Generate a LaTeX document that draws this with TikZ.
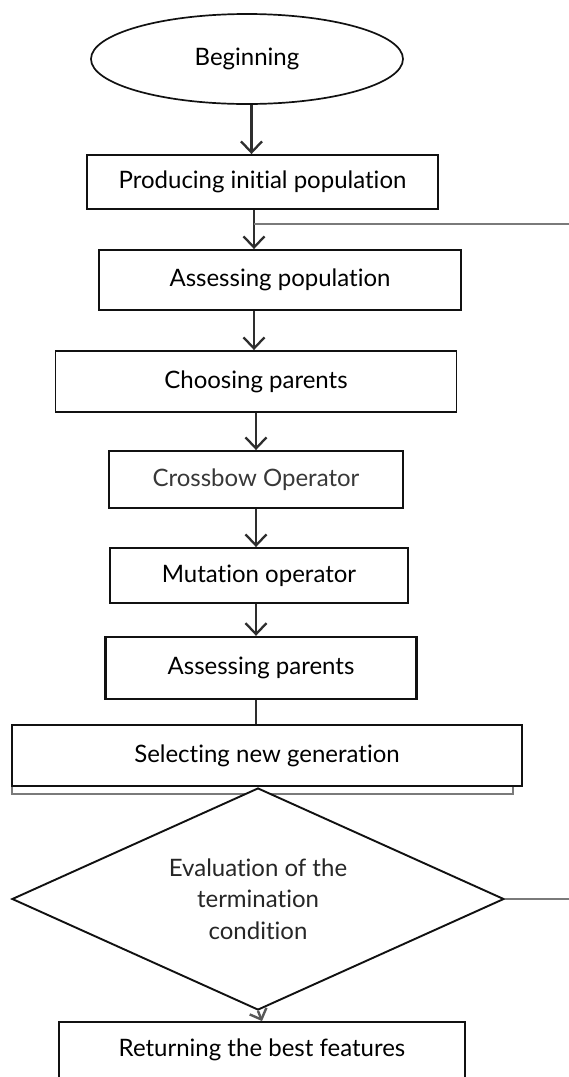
\documentclass[tikz,border=0pt]{standalone}
\usepackage{fontspec}
\setmainfont[Ligatures=NoCommon]{Lato}
\usetikzlibrary{shapes.geometric,arrows.meta}
\definecolor{edge}{HTML}{111111}
\definecolor{conn}{HTML}{2E2E2E}
\definecolor{fbgray}{HTML}{7A7A7A}
\tikzset{
  stepbox/.style={draw=edge, line width=1.9pt, fill=white, inner sep=0pt,
    font=\fontsize{24}{31.5}\selectfont, text=black},
  startshape/.style={ellipse, draw=edge, line width=1.7pt, fill=white, inner sep=0pt,
    font=\fontsize{24}{31.5}\selectfont},
  decision/.style={diamond, draw=edge, line width=1.9pt, fill=white, inner sep=0pt,
    aspect=2.2, align=center, font=\fontsize{24}{31.5}\selectfont, text=black!85},
  arr/.style={draw=conn, line width=2.3pt, -{Straight Barb[length=11pt,width=21pt]}},
  plainconn/.style={draw=conn, line width=2.3pt},
  fb/.style={draw=fbgray, line width=1.8pt},
  shadowline/.style={draw=fbgray, line width=1.6pt}
}
\begin{document}
\begin{tikzpicture}[x=1pt,y=-1pt]
\clip (0,0) rectangle (569,1077);
\fill[white] (0,0) rectangle (569,1077);

% column x positions of the connectors
\coordinate (xa) at (251.5,0);
\coordinate (xb) at (254,0);
\coordinate (xc) at (256,0);
\coordinate (fb1) at (569,224);
\coordinate (fb2) at (569,899);

\node[startshape, minimum width=312pt, minimum height=90pt] (e) at (247,59) {Beginning};
\node[stepbox, minimum width=351pt, minimum height=54pt] (b1) at (262.5,182) {Producing initial population};
\node[stepbox, minimum width=362pt, minimum height=60pt] (b2) at (280,280) {Assessing population};
\node[stepbox, minimum width=401pt, minimum height=61pt] (b3) at (256,381.5) {Choosing parents};
\node[stepbox, minimum width=294pt, minimum height=57pt, text=black!78] (b4) at (256,479.5) {Crossbow Operator};
\node[stepbox, minimum width=298pt, minimum height=55pt] (b5) at (259,575.5) {Mutation operator};
\node[stepbox, minimum width=311pt, minimum height=62pt, line width=2.4pt] (b6) at (261,668) {Assessing parents};

% shadow outline behind "Selecting new generation"
\draw[shadowline] (12,780) -- (12,794) -- (513,794) -- (513,780);
\node[stepbox, minimum width=510pt, minimum height=61pt] (b7) at (267,755.5) {Selecting new generation};

\node[decision, minimum width=492pt, minimum height=222pt] (d) at (258,899)
  {Evaluation of the\\termination\\condition};
\node[stepbox, minimum width=406pt, minimum height=56pt] (b8) at (262,1050) {Returning the best features};

% connectors
\draw[arr] (e.south -| xa) -- (b1.north -| xa);
\draw[arr] (b1.south -| xb) -- (b2.north -| xb);
\draw[fb] (fb1 -| xb) -- (fb1);
\draw[arr] (b2.south -| xb) -- (b3.north -| xb);
\draw[arr] (b3.south -| xc) -- (b4.north -| xc);
\draw[arr] (b4.south -| xc) -- (b5.north -| xc);
\draw[arr] (b5.south -| xc) -- (b6.north -| xc);
\draw[plainconn] (b6.south -| xc) -- (b7.north -| xc);
\draw[fb] (d.east) -- (fb2);
\draw[draw=conn!80, line width=2.4pt, -{Straight Barb[length=9pt,width=18pt]}] (d.south) -- (b8.north);
\end{tikzpicture}
\end{document}
